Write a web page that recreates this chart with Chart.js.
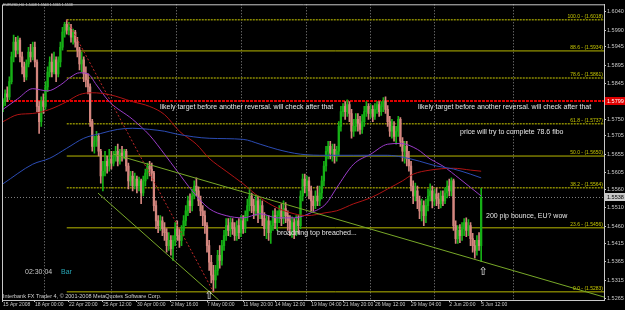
<!DOCTYPE html>
<html>
<head>
<meta charset="utf-8">
<script src="https://cdn.jsdelivr.net/npm/chart.js@4.4.1/dist/chart.umd.min.js"></script>
<style>
  html, body { margin: 0; padding: 0; background: #000; overflow: hidden; }
  canvas { display: block; }
</style>
</head>
<body>
<canvas id="chart" width="625" height="310"></canvas>
<script>
// EURUSD H4, 15 Apr - 5 Jun 2008
const firstOpen = 1.5784;
const closes = [
  1.5797, 1.5818, 1.5810, 1.5851, 1.5918, 1.5958, 1.5936, 1.5963, 1.5918, 1.5891,
  1.5864, 1.5899, 1.5931, 1.5918, 1.5944, 1.5904, 1.5784, 1.5743, 1.5797, 1.5784,
  1.5837, 1.5877, 1.5904, 1.5877, 1.5910, 1.5872, 1.5904, 1.5944, 1.5985, 1.6006,
  1.5990, 1.5998, 1.5971, 1.5985, 1.5958, 1.5936, 1.5899, 1.5910, 1.5872, 1.5856,
  1.5837, 1.5743, 1.5676, 1.5690, 1.5703, 1.5663, 1.5596, 1.5609, 1.5636, 1.5623,
  1.5642, 1.5631, 1.5650, 1.5663, 1.5636, 1.5658, 1.5650, 1.5663, 1.5623, 1.5583,
  1.5596, 1.5569, 1.5588, 1.5569, 1.5583, 1.5550, 1.5583, 1.5604, 1.5623, 1.5615,
  1.5604, 1.5516, 1.5475, 1.5462, 1.5475, 1.5454, 1.5443, 1.5408, 1.5422, 1.5400,
  1.5422, 1.5454, 1.5435, 1.5422, 1.5449, 1.5475, 1.5502, 1.5529, 1.5516, 1.5542,
  1.5569, 1.5556, 1.5529, 1.5502, 1.5489, 1.5462, 1.5408, 1.5363, 1.5328, 1.5315,
  1.5341, 1.5382, 1.5368, 1.5408, 1.5435, 1.5462, 1.5449, 1.5470, 1.5454, 1.5435,
  1.5462, 1.5443, 1.5475, 1.5454, 1.5489, 1.5516, 1.5542, 1.5516, 1.5502, 1.5529,
  1.5497, 1.5516, 1.5481, 1.5454, 1.5475, 1.5443, 1.5462, 1.5489, 1.5470, 1.5489,
  1.5502, 1.5481, 1.5508, 1.5489, 1.5475, 1.5454, 1.5470, 1.5449, 1.5475, 1.5462,
  1.5542, 1.5588, 1.5569, 1.5583, 1.5556, 1.5529, 1.5516, 1.5542, 1.5529, 1.5550,
  1.5583, 1.5623, 1.5663, 1.5676, 1.5658, 1.5668, 1.5650, 1.5663, 1.5730, 1.5770,
  1.5784, 1.5770, 1.5789, 1.5765, 1.5717, 1.5730, 1.5749, 1.5738, 1.5722, 1.5743,
  1.5770, 1.5784, 1.5765, 1.5776, 1.5757, 1.5776, 1.5789, 1.5770, 1.5784, 1.5797,
  1.5776, 1.5743, 1.5717, 1.5730, 1.5703, 1.5717, 1.5749, 1.5690, 1.5663, 1.5676,
  1.5642, 1.5623, 1.5569, 1.5542, 1.5556, 1.5529, 1.5502, 1.5516, 1.5489, 1.5516,
  1.5542, 1.5556, 1.5529, 1.5548, 1.5534, 1.5521, 1.5542, 1.5529, 1.5550, 1.5569,
  1.5556, 1.5583, 1.5462, 1.5427, 1.5449, 1.5435, 1.5454, 1.5470, 1.5449, 1.5462,
  1.5427, 1.5408, 1.5395, 1.5422, 1.5408, 1.5538
];
const highs = [
  1.5805, 1.5829, 1.5837, 1.5864, 1.5931, 1.5977, 1.5971, 1.5974, 1.5969, 1.5931,
  1.5904, 1.5910, 1.5944, 1.5952, 1.5958, 1.5958, 1.5910, 1.5797, 1.5810, 1.5818,
  1.5851, 1.5891, 1.5918, 1.5926, 1.5931, 1.5918, 1.5918, 1.5958, 1.5998, 1.6011,
  1.6018, 1.6011, 1.6006, 1.5993, 1.5990, 1.5971, 1.5944, 1.5931, 1.5918, 1.5891,
  1.5872, 1.5845, 1.5749, 1.5703, 1.5717, 1.5711, 1.5668, 1.5636, 1.5663, 1.5650,
  1.5668, 1.5663, 1.5663, 1.5676, 1.5682, 1.5668, 1.5676, 1.5668, 1.5668, 1.5631,
  1.5609, 1.5609, 1.5604, 1.5596, 1.5593, 1.5588, 1.5596, 1.5615, 1.5631, 1.5636,
  1.5631, 1.5609, 1.5529, 1.5489, 1.5489, 1.5486, 1.5470, 1.5454, 1.5443, 1.5435,
  1.5435, 1.5470, 1.5475, 1.5454, 1.5462, 1.5489, 1.5516, 1.5542, 1.5548, 1.5561,
  1.5583, 1.5591, 1.5567, 1.5542, 1.5516, 1.5502, 1.5470, 1.5422, 1.5382, 1.5355,
  1.5355, 1.5395, 1.5408, 1.5422, 1.5449, 1.5481, 1.5481, 1.5483, 1.5481, 1.5470,
  1.5475, 1.5481, 1.5489, 1.5489, 1.5502, 1.5534, 1.5564, 1.5550, 1.5534, 1.5545,
  1.5542, 1.5534, 1.5529, 1.5497, 1.5489, 1.5489, 1.5475, 1.5502, 1.5508, 1.5502,
  1.5516, 1.5521, 1.5529, 1.5524, 1.5502, 1.5489, 1.5486, 1.5481, 1.5489, 1.5489,
  1.5556, 1.5601, 1.5601, 1.5596, 1.5593, 1.5569, 1.5542, 1.5556, 1.5569, 1.5569,
  1.5596, 1.5636, 1.5676, 1.5690, 1.5690, 1.5682, 1.5682, 1.5676, 1.5743, 1.5784,
  1.5792, 1.5797, 1.5802, 1.5797, 1.5776, 1.5749, 1.5765, 1.5765, 1.5757, 1.5762,
  1.5784, 1.5797, 1.5792, 1.5789, 1.5786, 1.5792, 1.5797, 1.5797, 1.5797, 1.5808,
  1.5810, 1.5786, 1.5757, 1.5749, 1.5743, 1.5730, 1.5757, 1.5754, 1.5700, 1.5690,
  1.5690, 1.5663, 1.5636, 1.5583, 1.5577, 1.5569, 1.5542, 1.5534, 1.5529, 1.5534,
  1.5561, 1.5575, 1.5569, 1.5561, 1.5564, 1.5550, 1.5556, 1.5556, 1.5564, 1.5583,
  1.5588, 1.5591, 1.5588, 1.5475, 1.5462, 1.5465, 1.5470, 1.5481, 1.5483, 1.5478,
  1.5470, 1.5441, 1.5422, 1.5435, 1.5443, 1.5563
];
const lows = [
  1.5770, 1.5786, 1.5797, 1.5802, 1.5845, 1.5904, 1.5918, 1.5926, 1.5904, 1.5872,
  1.5851, 1.5856, 1.5891, 1.5904, 1.5910, 1.5891, 1.5770, 1.5711, 1.5730, 1.5765,
  1.5776, 1.5824, 1.5864, 1.5864, 1.5872, 1.5851, 1.5864, 1.5891, 1.5936, 1.5971,
  1.5979, 1.5977, 1.5958, 1.5952, 1.5944, 1.5918, 1.5883, 1.5877, 1.5851, 1.5837,
  1.5818, 1.5730, 1.5663, 1.5658, 1.5676, 1.5650, 1.5577, 1.5556, 1.5596, 1.5604,
  1.5609, 1.5615, 1.5623, 1.5636, 1.5623, 1.5628, 1.5636, 1.5642, 1.5609, 1.5561,
  1.5569, 1.5556, 1.5561, 1.5550, 1.5556, 1.5521, 1.5542, 1.5569, 1.5588, 1.5596,
  1.5583, 1.5502, 1.5454, 1.5443, 1.5449, 1.5435, 1.5422, 1.5390, 1.5395, 1.5382,
  1.5368, 1.5408, 1.5422, 1.5403, 1.5408, 1.5435, 1.5462, 1.5489, 1.5497, 1.5502,
  1.5534, 1.5542, 1.5516, 1.5489, 1.5462, 1.5441, 1.5390, 1.5341, 1.5307, 1.5283,
  1.5293, 1.5328, 1.5347, 1.5355, 1.5395, 1.5422, 1.5435, 1.5432, 1.5438, 1.5422,
  1.5422, 1.5427, 1.5432, 1.5441, 1.5443, 1.5475, 1.5502, 1.5497, 1.5481, 1.5489,
  1.5470, 1.5481, 1.5462, 1.5435, 1.5427, 1.5422, 1.5414, 1.5449, 1.5454, 1.5449,
  1.5470, 1.5462, 1.5467, 1.5470, 1.5449, 1.5435, 1.5430, 1.5427, 1.5435, 1.5441,
  1.5454, 1.5529, 1.5550, 1.5542, 1.5534, 1.5502, 1.5502, 1.5508, 1.5516, 1.5516,
  1.5534, 1.5569, 1.5609, 1.5642, 1.5642, 1.5636, 1.5631, 1.5636, 1.5650, 1.5717,
  1.5757, 1.5749, 1.5757, 1.5743, 1.5698, 1.5703, 1.5717, 1.5717, 1.5709, 1.5711,
  1.5730, 1.5757, 1.5749, 1.5754, 1.5743, 1.5749, 1.5765, 1.5757, 1.5760, 1.5770,
  1.5765, 1.5730, 1.5703, 1.5698, 1.5690, 1.5682, 1.5703, 1.5676, 1.5636, 1.5631,
  1.5623, 1.5609, 1.5556, 1.5521, 1.5529, 1.5508, 1.5481, 1.5475, 1.5462, 1.5470,
  1.5502, 1.5529, 1.5510, 1.5516, 1.5516, 1.5508, 1.5510, 1.5516, 1.5521, 1.5537,
  1.5542, 1.5542, 1.5449, 1.5414, 1.5414, 1.5416, 1.5422, 1.5435, 1.5432, 1.5435,
  1.5408, 1.5390, 1.5374, 1.5382, 1.5395, 1.5365
];

// moving averages, [bar, price] knots
const maPurple = [[0,1.5776],[7,1.5805],[14,1.5832],[21,1.5826],[27,1.5842],[32,1.5864],[36,1.5875],[40,1.5872],
  [44,1.5842],[50,1.5797],[61,1.5749],[69,1.5706],[76,1.5655],[82,1.5609],[89,1.5556],[97,1.5508],[105,1.5489],
  [113,1.5483],[121,1.5494],[129,1.5483],[137,1.5483],[145,1.5497],[152,1.5521],[157,1.5564],[165,1.5628],
  [173,1.5655],[181,1.5682],[187,1.5684],[195,1.5668],[201,1.5642],[207,1.5623],[215,1.5588],[225,1.5542]];
const maRed = [[0,1.5743],[7,1.5762],[14,1.5765],[22,1.5776],[30,1.5797],[36,1.5816],[42,1.5821],[50,1.5816],
  [61,1.5797],[69,1.5784],[76,1.5762],[83,1.5717],[91,1.5682],[97,1.5644],[105,1.5609],[113,1.5575],[121,1.5537],
  [129,1.5510],[137,1.5494],[143,1.5489],[152,1.5497],[157,1.5502],[165,1.5521],[173,1.5537],[181,1.5561],
  [188,1.5583],[193,1.5601],[201,1.5612],[212,1.5617],[220,1.5612],[225,1.5609]];
const maBlue = [[0,1.5575],[14,1.5628],[22,1.5644],[30,1.5671],[38,1.5698],[46,1.5711],[54,1.5722],[61,1.5725],
  [69,1.5722],[76,1.5717],[82,1.5709],[97,1.5698],[113,1.5695],[121,1.5682],[129,1.5668],[140,1.5655],
  [152,1.5652],[165,1.5652],[181,1.5652],[188,1.5647],[196,1.5636],[204,1.5623],[212,1.5615],[220,1.5601],[225,1.5591]];

// drawn objects
const fibStartBar = 30;
const fibLevels = ['0.0', '23.6', '38.2', '50.0', '61.8', '78.6', '88.6', '100.0'];
const fibPrices = [1.5283, 1.5456, 1.5564, 1.5650, 1.5737, 1.5861, 1.5934, 1.6018];
const fibDotted = [false, false, true, false, true, true, false, true];
const trendUpper = [[52, 1.5655], [282.8, 1.5269]];
const trendLower = [[44.7, 1.5550], [101.5, 1.5261]];
const fibDiagonal = [[30, 1.6018], [99, 1.5283]];
const redLevel = 1.5799;
const bidLevel = 1.5538;

// axes
const yTicks = [1.6040, 1.5990, 1.5945, 1.5895, 1.5845, 1.5750, 1.5705, 1.5655, 1.5605, 1.5560,
  1.5510, 1.5460, 1.5415, 1.5365, 1.5315, 1.5265];
const xLabelBars = [0, 15, 31, 47, 63, 79, 96, 113, 128, 145, 160, 175, 192, 210, 225];
const xLabels = ['15 Apr 2008', '18 Apr 00:00', '22 Apr 20:00', '25 Apr 12:00', '30 Apr 00:00', '2 May 16:00',
  '7 May 00:00', '11 May 20:00', '14 May 12:00', '19 May 04:00', '21 May 20:00', '26 May 12:00',
  '29 May 04:00', '2 Jun 20:00', '5 Jun 12:00'];
const gridBars = [19.3, 50.8, 81.4, 112, 142.6, 172.7, 202.8, 240];

const FONT = '"Liberation Sans", Arial, sans-serif';
const AXIS_COLOR = '#c8c8c8';
const BULL = '#16b016';
const BEAR = '#d4867f';

const opens = closes.map((c, i) => i === 0 ? firstOpen : closes[i - 1]);
const candleColors = closes.map((c, i) => c >= opens[i] ? BULL : BEAR);
const wickData = highs.map((h, i) => ({ x: i, y: [lows[i], h] }));
const bodyData = closes.map((c, i) => ({ x: i, y: [opens[i], c] }));
const toPts = arr => arr.map(p => ({ x: p[0], y: p[1] }));

const xMin = -0.47, xMax = 282.8;

function lineSet(data, color, width, dash, extra) {
  return Object.assign({
    type: 'line', data: data, borderColor: color, borderWidth: width, borderDash: dash || [],
    pointRadius: 0, fill: false, order: 0, tension: 0
  }, extra || {});
}

const datasets = [
  { type: 'bar', data: wickData, backgroundColor: candleColors, barThickness: 1, grouped: false, order: 11 },
  { type: 'bar', data: bodyData, backgroundColor: candleColors, barThickness: 1.6, grouped: false, minBarLength: 1, order: 10 }
];

fibPrices.forEach((p, i) => {
  datasets.push(lineSet([{ x: fibStartBar, y: p }, { x: xMax, y: p }],
    fibDotted[i] ? '#8a8a00' : '#b8b800', fibDotted[i] ? 1.5 : 1, fibDotted[i] ? [2, 1] : [], { order: 12 }));
});
datasets.push(lineSet([{ x: xMin, y: redLevel }, { x: xMax, y: redLevel }], '#e00000', 2, [3, 1], { order: 12 }));
datasets.push(lineSet([{ x: xMin, y: bidLevel }, { x: xMax, y: bidLevel }], '#808080', 1, [1, 2], { order: 12 }));
datasets.push(lineSet(toPts(trendUpper), '#78a828', 1));
datasets.push(lineSet(toPts(trendLower), '#78a828', 1));
datasets.push(lineSet(toPts(fibDiagonal), '#c02828', 1, [2, 2]));
datasets.push(lineSet(toPts(maBlue), '#2c4cb4', 1, [], { cubicInterpolationMode: 'monotone' }));
datasets.push(lineSet(toPts(maRed), '#b01414', 1, [], { cubicInterpolationMode: 'monotone' }));
datasets.push(lineSet(toPts(maPurple), '#9a3cc8', 1, [], { cubicInterpolationMode: 'monotone' }));

const notes = [
  { text: 'likely target before another reversal. will check after that', x: 160, y: 107, color: '#e6e6e6', size: 7 },
  { text: 'likely target before another reversal. will check after that', x: 418, y: 107, color: '#e6e6e6', size: 7 },
  { text: 'price will try to complete 78.6 fibo', x: 460, y: 132, color: '#e6e6e6', size: 7 },
  { text: 'broadning top breached...', x: 277, y: 233, color: '#e6e6e6', size: 7 },
  { text: '200 pip bounce, EU? wow', x: 486, y: 216, color: '#e6e6e6', size: 7 },
  { text: '02:30:04', x: 25, y: 272, color: '#c8c8c8', size: 7 },
  { text: 'Bar', x: 61, y: 272, color: '#28a8b8', size: 7 },
  { text: 'Interbank FX Trader 4, \u00a9 2001-2008 MetaQuotes Software Corp.', x: 3, y: 296, color: '#d0d0d0', size: 5.5 },
  { text: 'EURUSD,H4  1.5408 1.5563 1.5365 1.5538', x: 3, y: 5, color: '#d0d0d0', size: 3.6 }
];
const arrows = [{ x: 209, y: 296 }, { x: 483, y: 272 }];

const backdrop = {
  id: 'backdrop',
  beforeDraw(chart) {
    const ctx = chart.ctx;
    ctx.save();
    ctx.fillStyle = '#000';
    ctx.fillRect(0, 0, chart.width, chart.height);
    ctx.restore();
  },
  beforeDatasetsDraw(chart) {
    const { ctx, chartArea, scales } = chart;
    ctx.save();
    ctx.strokeStyle = '#8c8c8c';
    ctx.lineWidth = 1;
    ctx.setLineDash([1, 2]);
    gridBars.forEach(b => {
      const x = Math.round(scales.x.getPixelForValue(b)) + 0.5;
      ctx.beginPath();
      ctx.moveTo(x, chartArea.top);
      ctx.lineTo(x, chartArea.bottom);
      ctx.stroke();
    });
    ctx.restore();
  }
};

const overlay = {
  id: 'overlay',
  afterDraw(chart) {
    const { ctx, chartArea, scales } = chart;
    const y = scales.y;
    ctx.save();
    // frame
    ctx.strokeStyle = AXIS_COLOR;
    ctx.lineWidth = 1;
    ctx.beginPath();
    ctx.moveTo(chartArea.left + 0.5, chartArea.bottom);
    ctx.lineTo(chartArea.left + 0.5, chartArea.top + 0.5);
    ctx.lineTo(chartArea.right, chartArea.top + 0.5);
    ctx.stroke();

    // fibo level captions
    ctx.font = '5px ' + FONT;
    ctx.fillStyle = '#c8c800';
    ctx.textAlign = 'right';
    ctx.textBaseline = 'bottom';
    fibPrices.forEach((p, i) => {
      ctx.fillText(fibLevels[i] + ' - (' + p.toFixed(4) + ')', chartArea.right - 1, y.getPixelForValue(p) - 0.5);
    });

    // price boxes on the axis
    const boxes = [{ v: redLevel, bg: '#e00000', fg: '#ffffff' }, { v: bidLevel, bg: '#c8c8c8', fg: '#000000' }];
    ctx.textAlign = 'left';
    ctx.textBaseline = 'middle';
    ctx.font = '5.5px ' + FONT;
    boxes.forEach(b => {
      const py = Math.round(y.getPixelForValue(b.v));
      ctx.fillStyle = b.bg;
      ctx.fillRect(chartArea.right + 1, py - 4, chart.width - chartArea.right - 1, 8);
      ctx.fillStyle = b.fg;
      ctx.fillText(b.v.toFixed(4), chartArea.right + 3, py + 0.5);
    });

    // comments
    notes.forEach(n => {
      ctx.font = n.size + 'px ' + FONT;
      ctx.fillStyle = n.color;
      ctx.fillText(n.text, n.x, n.y);
    });

    // arrows
    ctx.font = '11px "DejaVu Sans"';
    ctx.fillStyle = '#e6e6e6';
    ctx.textAlign = 'center';
    arrows.forEach(a => ctx.fillText('\u21e7', a.x, a.y));
    ctx.restore();
  }
};

new Chart(document.getElementById('chart'), {
  type: 'bar',
  data: { datasets: datasets },
  options: {
    responsive: false,
    animation: false,
    devicePixelRatio: 1,
    layout: { padding: { left: 2, top: 2, right: 0, bottom: 0 } },
    plugins: { legend: { display: false }, tooltip: { enabled: false } },
    scales: {
      x: {
        type: 'linear', min: xMin, max: xMax, offset: false,
        afterBuildTicks: s => { s.ticks = xLabelBars.map(v => ({ value: v })); },
        afterFit: s => { s.height = 10; },
        ticks: {
          autoSkip: false, maxRotation: 0, align: 'start', padding: 0,
          color: AXIS_COLOR, font: { size: 5, family: FONT },
          callback: (v, i) => xLabels[i]
        },
        grid: { drawOnChartArea: false, drawTicks: true, tickLength: 2, color: AXIS_COLOR, offset: false },
        border: { display: true, color: AXIS_COLOR }
      },
      y: {
        position: 'right', min: 1.5261, max: 1.6060,
        afterBuildTicks: s => { s.ticks = yTicks.map(v => ({ value: v })); },
        afterFit: s => { s.width = 21; },
        ticks: {
          autoSkip: false, padding: 1, color: AXIS_COLOR, font: { size: 5.5, family: FONT },
          callback: v => v.toFixed(4)
        },
        grid: { drawOnChartArea: false, drawTicks: true, tickLength: 2, color: AXIS_COLOR },
        border: { display: true, color: AXIS_COLOR }
      }
    }
  },
  plugins: [backdrop, overlay]
});
</script>
</body>
</html>
